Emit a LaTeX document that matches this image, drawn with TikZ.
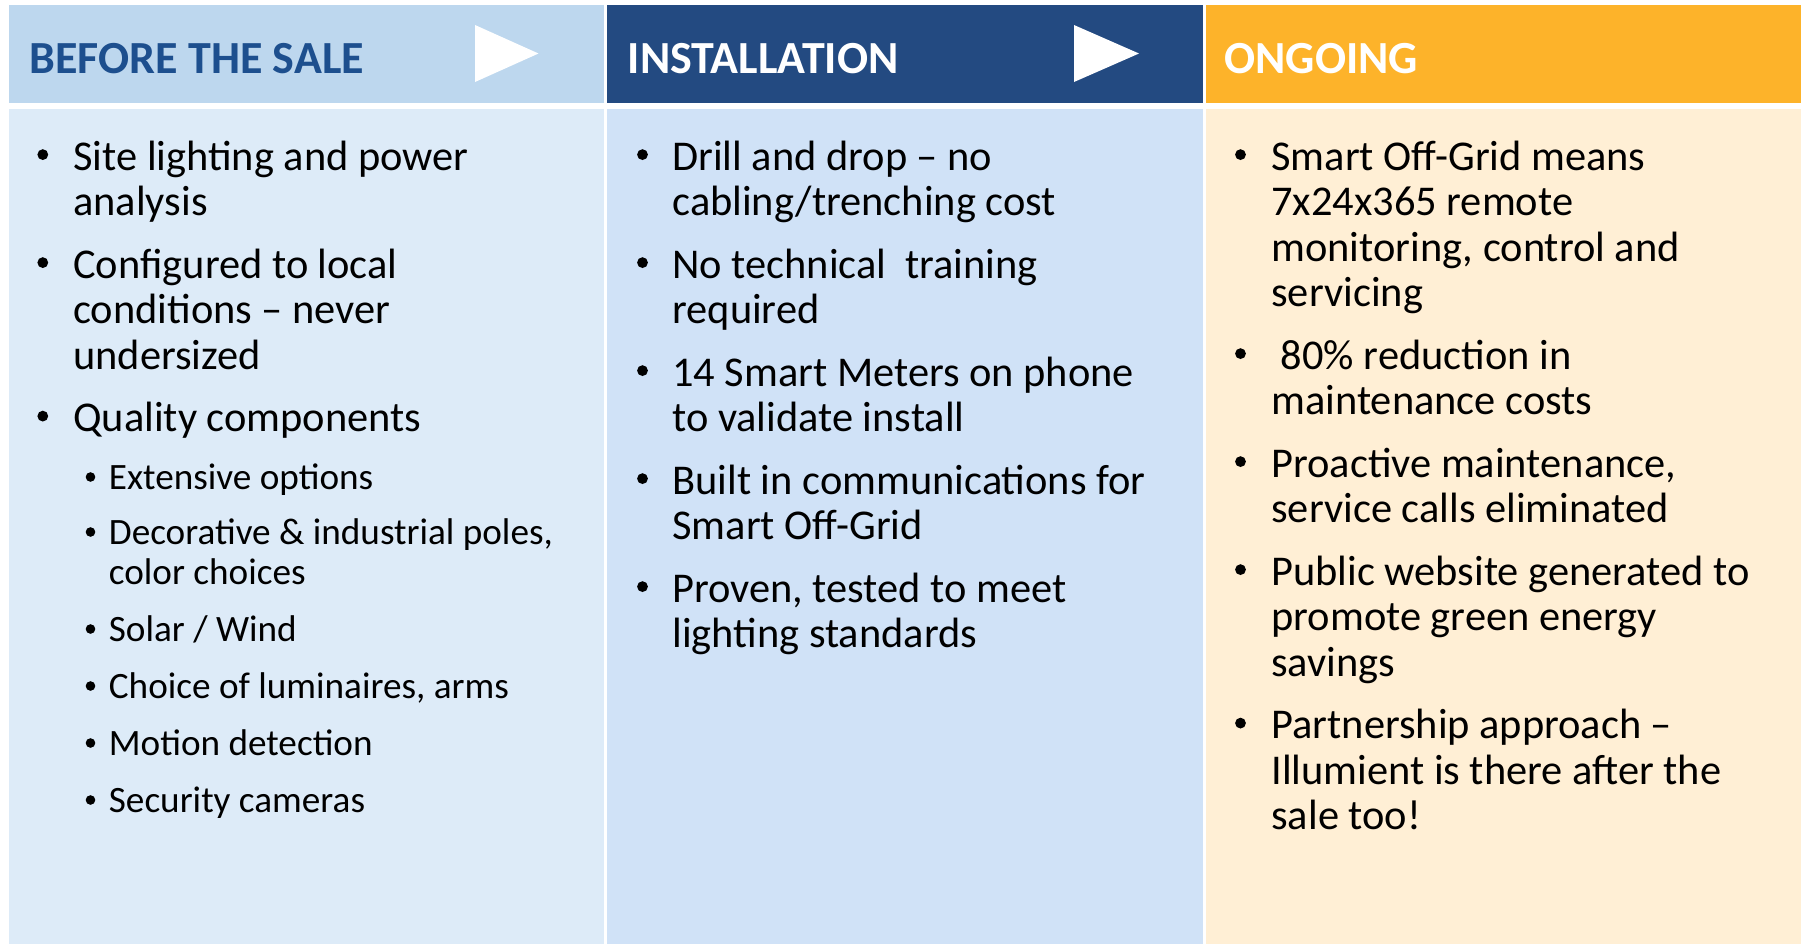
\documentclass[tikz,border=0pt]{standalone}
\usepackage{fontspec}
\setmainfont{Carlito}
\definecolor{hdA}{HTML}{BDD7EE}
\definecolor{hdAtext}{HTML}{1D4F8E}
\definecolor{hdB}{HTML}{234A81}
\definecolor{hdC}{HTML}{FDB32A}
\definecolor{bdA}{HTML}{DDEBF8}
\definecolor{bdB}{HTML}{D0E2F7}
\definecolor{bdC}{HTML}{FFEFD5}
\tikzset{
  hdtext/.style={anchor=base west,inner sep=0pt,font=\fontsize{23}{27}\selectfont\bfseries},
  txt/.style={anchor=base west,inner sep=0pt,font=\fontsize{21.2}{23}\selectfont,text=black},
  subtxt/.style={anchor=base west,inner sep=0pt,font=\fontsize{18.6}{20}\selectfont,text=black},
  bul/.style={circle,fill=black,draw=none,inner sep=0pt,minimum size=5.4pt},
  subbul/.style={circle,fill=black,draw=none,inner sep=0pt,minimum size=4.8pt},
  playtri/.style={fill=white,draw=none}
}
\begin{document}
\begin{tikzpicture}[x=0.5pt,y=-0.5pt]
\useasboundingbox (0,0) rectangle (1801,944);
\fill[white] (0,0) rectangle (1801,944);
% headers
\fill[hdA] (8.6,5) rectangle (604,103);
\fill[hdB] (607,5) rectangle (1203,103);
\fill[hdC] (1205.5,5) rectangle (1801,103);
% bodies
\fill[bdA] (8.6,109) rectangle (604,944);
\fill[bdB] (607,109) rectangle (1203,944);
\fill[bdC] (1205.5,109) rectangle (1801,944);
% play triangles
\fill[playtri] (475,25) -- (538.5,53.5) -- (475,82) -- cycle;
\fill[playtri] (1074,25) -- (1139,53.5) -- (1074,82) -- cycle;
% header texts
\node[hdtext,text=hdAtext] (hA) at (29,73) {BEFORE THE SALE};
\node[hdtext,text=white] (hB) at (627.5,73) {INSTALLATION};
\node[hdtext,text=white] (hC) at (1224,73) {ONGOING};
% column 1
\node[bul] (a1b) at (42.8,170-15.4) {};
\node[txt] (a1a) at (73,170) {Site lighting and power};
\node[txt] (a1c) at (73,215.5) {analysis};
\node[bul] (a2b) at (42.8,278-15.4) {};
\node[txt] (a2a) at (73,278) {Configured to local};
\node[txt] (a2c) at (73,323.5) {conditions – never};
\node[txt] (a2d) at (73,369) {undersized};
\node[bul] (a3b) at (42.8,431.5-15.4) {};
\node[txt] (a3a) at (73,431.5) {Quality components};
\node[subbul] (s1b) at (90.5,489-12) {};
\node[subtxt] (s1a) at (108.5,489) {Extensive options};
\node[subbul] (s2b) at (90.5,544-12) {};
\node[subtxt] (s2a) at (108.5,544) {Decorative \& industrial poles,};
\node[subtxt] (s2c) at (108.5,584.5) {color choices};
\node[subbul] (s3b) at (90.5,641-12) {};
\node[subtxt] (s3a) at (108.5,641) {Solar / Wind};
\node[subbul] (s4b) at (90.5,698-12) {};
\node[subtxt] (s4a) at (108.5,698) {Choice of luminaires, arms};
\node[subbul] (s5b) at (90.5,755-12) {};
\node[subtxt] (s5a) at (108.5,755) {Motion detection};
\node[subbul] (s6b) at (90.5,812-12) {};
\node[subtxt] (s6a) at (108.5,812) {Security cameras};
% column 2
\node[bul] (b1b) at (642.5,170-15.4) {};
\node[txt] (b1a) at (672,170) {Drill and drop – no};
\node[txt] (b1c) at (672,215.5) {cabling/trenching cost};
\node[bul] (b2b) at (642.5,278-15.4) {};
\node[txt] (b2a) at (672,278) {No technical\ \ training};
\node[txt] (b2c) at (672,323.5) {required};
\node[bul] (b3b) at (642.5,386-15.4) {};
\node[txt] (b3a) at (672,386) {14 Smart Meters on phone};
\node[txt] (b3c) at (672,431.5) {to validate install};
\node[bul] (b4b) at (642.5,494-15.4) {};
\node[txt] (b4a) at (672,494) {Built in communications for};
\node[txt] (b4c) at (672,539.5) {Smart Off-Grid};
\node[bul] (b5b) at (642.5,602-15.4) {};
\node[txt] (b5a) at (672,602) {Proven, tested to meet};
\node[txt] (b5c) at (672,647.5) {lighting standards};
% column 3
\node[bul] (c1b) at (1240.5,170-15.4) {};
\node[txt] (c1a) at (1271,170) {Smart Off-Grid means};
\node[txt] (c1c) at (1271,215.5) {7x24x365 remote};
\node[txt] (c1d) at (1271,261) {monitoring, control and};
\node[txt] (c1e) at (1271,306.5) {servicing};
\node[bul] (c2b) at (1240.5,369-15.4) {};
\node[txt] (c2a) at (1271,369) {\ 80\% reduction in};
\node[txt] (c2c) at (1271,414.5) {maintenance costs};
\node[bul] (c3b) at (1240.5,477-15.4) {};
\node[txt] (c3a) at (1271,477) {Proactive maintenance,};
\node[txt] (c3c) at (1271,522.5) {service calls eliminated};
\node[bul] (c4b) at (1240.5,585-15.4) {};
\node[txt] (c4a) at (1271,585) {Public website generated to};
\node[txt] (c4c) at (1271,630.5) {promote green energy};
\node[txt] (c4d) at (1271,676) {savings};
\node[bul] (c5b) at (1240.5,738.5-15.4) {};
\node[txt] (c5a) at (1271,738.5) {Partnership approach –};
\node[txt] (c5c) at (1271,784) {Illumient is there after the};
\node[txt] (c5d) at (1271,829.5) {sale too!};
\end{tikzpicture}
\end{document}
